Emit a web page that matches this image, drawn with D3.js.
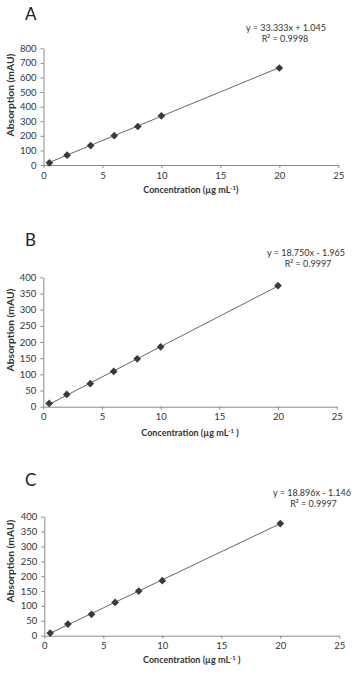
<!DOCTYPE html>
<html>
<head>
<meta charset="utf-8">
<script src="https://cdn.jsdelivr.net/npm/d3@7"></script>
<style>
  html, body { margin: 0; padding: 0; background: #fff; }
  svg { display: block; font-family: Lato, "Open Sans", sans-serif; }
</style>
</head>
<body>
<svg id="chart" width="360" height="674"></svg>
<script>
// ---- data ----
const concentrations = [0.5, 2, 4, 6, 8, 10, 20];
const absorptionA = [15, 67, 133, 201, 264, 337, 665];
const absorptionB = [10, 38, 71, 109, 148, 185, 374];
const absorptionC = [9, 39, 72, 112, 150, 185, 377];
const panelLetters = ["A", "B", "C"];
const slopes = [33.333, 18.750, 18.896];
const intercepts = [1.045, -1.965, -1.146];
const equationLabels = ["y = 33.333x + 1.045", "y = 18.750x - 1.965", "y = 18.896x - 1.146"];
const r2Labels = ["R\u00b2 = 0.9998", "R\u00b2 = 0.9997", "R\u00b2 = 0.9997"];
const xTicks = [0, 5, 10, 15, 20, 25];
const yTicksA = [0, 100, 200, 300, 400, 500, 600, 700, 800];
const yTicksBC = [0, 50, 100, 150, 200, 250, 300, 350, 400];
const xLabelTails = [")", " )", " )"];

// ---- layout ----
const panels = [
  { values: absorptionA, yTicks: yTicksA, yMax: 800, left: 43.5, right: 338.3, top: 48.3, bottom: 165,
    letterY: 20, eqX: 286, eqY: 31, r2X: 285, r2Y: 41.5, xLabY: 193, yLabCy: 95 },
  { values: absorptionB, yTicks: yTicksBC, yMax: 400, left: 43.3, right: 336.7, top: 277.3, bottom: 406.7,
    letterY: 246, eqX: 306, eqY: 256, r2X: 308, r2Y: 266.5, xLabY: 436, yLabCy: 330 },
  { values: absorptionC, yTicks: yTicksBC, yMax: 400, left: 44.3, right: 339.3, top: 516.7, bottom: 635.7,
    letterY: 486, eqX: 312, eqY: 496, r2X: 313.5, r2Y: 506.5, xLabY: 663, yLabCy: 561 }
];

const svg = d3.select("#chart");
const axisColor = "#8a8a8a";
const textColor = "#333";
const markColor = "#3a3a3a";

panels.forEach((p, i) => {
  const g = svg.append("g");
  const x = d3.scaleLinear().domain([0, 25]).range([p.left, p.right]);
  const y = d3.scaleLinear().domain([0, p.yMax]).range([p.bottom, p.top]);

  // letter
  g.append("text").attr("x", 25).attr("y", p.letterY)
    .attr("font-size", 17).attr("fill", "#222").text(panelLetters[i]);

  // x axis
  const xa = g.append("g").attr("transform", `translate(0,${p.bottom})`)
    .call(d3.axisBottom(x).tickValues(xTicks).tickSize(3).tickSizeOuter(0).tickPadding(4));
  // y axis
  const ya = g.append("g").attr("transform", `translate(${p.left},0)`)
    .call(d3.axisLeft(y).tickValues(p.yTicks).tickSize(3).tickSizeOuter(0).tickPadding(4));
  [xa, ya].forEach(a => {
    a.select(".domain").attr("stroke", axisColor);
    a.selectAll(".tick line").attr("stroke", axisColor);
    a.selectAll(".tick text").attr("fill", textColor).attr("font-size", 9.5)
      .attr("font-family", "Lato, sans-serif");
  });

  // axis titles
  const xl = g.append("text").attr("x", (p.left + p.right) / 2 + 0).attr("y", p.xLabY)
    .attr("text-anchor", "middle").attr("font-size", 9).attr("font-weight", "bold").attr("fill", textColor);
  xl.append("tspan").text("Concentration (\u00b5g mL");
  xl.append("tspan").attr("font-size", 6).attr("dy", -3.5).text("-1");
  xl.append("tspan").attr("dy", 3.5).text(xLabelTails[i]);

  g.append("text").attr("transform", `translate(14,${p.yLabCy}) rotate(-90)`)
    .attr("text-anchor", "middle").attr("font-size", 10.3).attr("font-weight", "bold")
    .attr("fill", textColor).text("Absorption (mAU)");

  // trend line
  const xs = d3.extent(concentrations);
  g.append("line")
    .attr("x1", x(xs[0])).attr("y1", y(slopes[i] * xs[0] + intercepts[i]))
    .attr("x2", x(xs[1])).attr("y2", y(slopes[i] * xs[1] + intercepts[i]))
    .attr("stroke", "#555").attr("stroke-width", 0.9);

  // markers
  const sym = d3.symbol().type(d3.symbolDiamond2).size(38);
  g.selectAll("path.pt").data(concentrations.map((c, k) => [c, p.values[k]]))
    .join("path").attr("class", "pt")
    .attr("transform", d => `translate(${x(d[0])},${y(d[1])})`)
    .attr("d", sym).attr("fill", markColor);

  // equation
  g.append("text").attr("x", p.eqX).attr("y", p.eqY).attr("text-anchor", "middle")
    .attr("font-size", 9).attr("fill", textColor).text(equationLabels[i]);
  g.append("text").attr("x", p.r2X).attr("y", p.r2Y).attr("text-anchor", "middle")
    .attr("font-size", 9).attr("fill", textColor).text(r2Labels[i]);
});
</script>
</body>
</html>
